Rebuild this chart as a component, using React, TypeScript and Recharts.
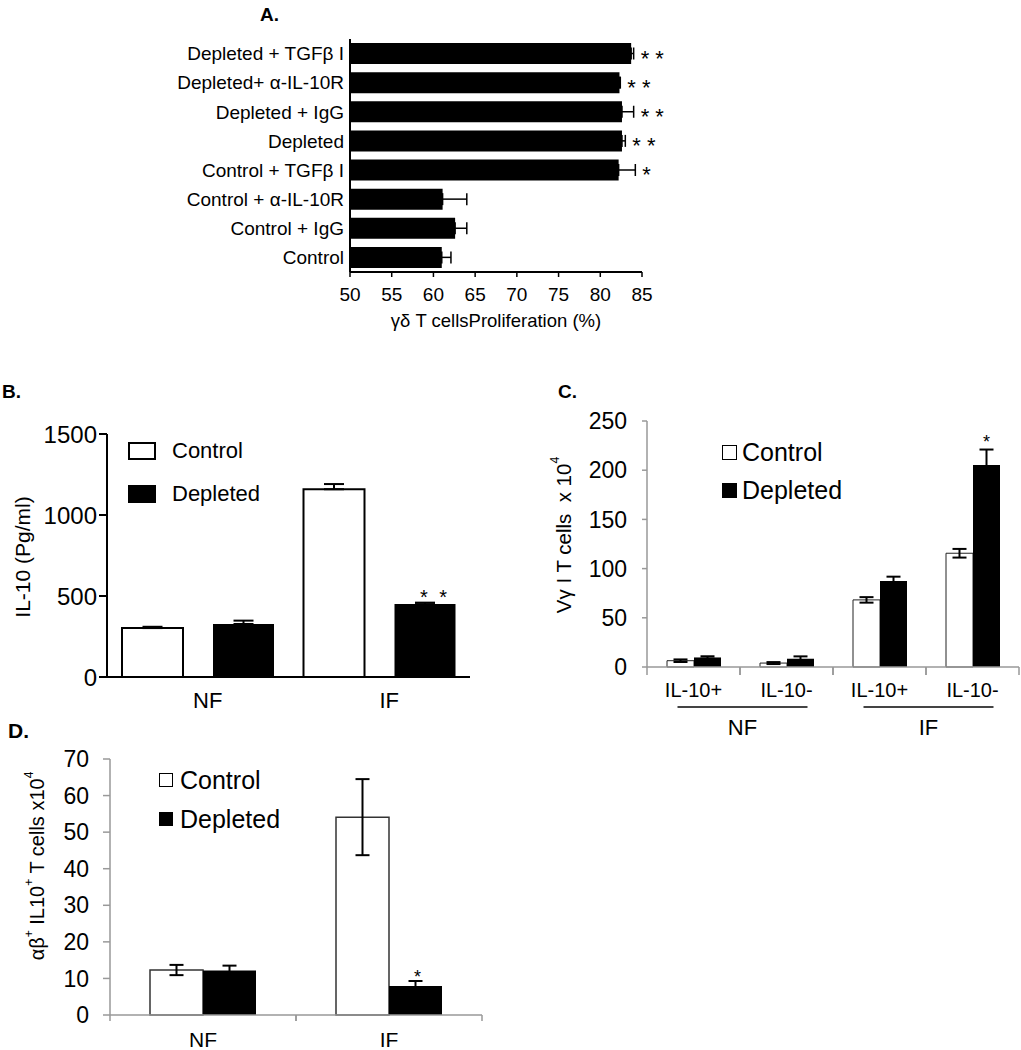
import React from "react";
import { BarChart, Bar, XAxis, YAxis, ErrorBar, LabelList } from "recharts";

const FONT = "'Liberation Sans', Arial, Helvetica, sans-serif";

// ---- Panel A: proliferation (horizontal bars)
const aLabels = [
  "Depleted + TGFβ I",
  "Depleted+ α-IL-10R",
  "Depleted + IgG",
  "Depleted",
  "Control + TGFβ I",
  "Control + α-IL-10R",
  "Control + IgG",
  "Control",
];
const aValues = [83.7, 82.3, 82.6, 82.6, 82.2, 61.1, 62.6, 61.0];
const aErrors = [0.3, 0.1, 1.4, 0.4, 2.0, 2.9, 1.4, 1.1];
const aStars = ["* *", "* *", "* *", "* *", "*", "", "", ""];
const aTicks = [50, 55, 60, 65, 70, 75, 80, 85];
const aTitle = "γδ T cellsProliferation (%)";

// ---- Panel B: IL-10 ELISA
const bCats = ["NF", "IF"];
const bControl = [302, 1159];
const bControlErr = [8, 32];
const bDepleted = [327, 450];
const bDepletedErr = [21, 9];
const bStars = ["", "* *"];
const bTicks = [0, 500, 1000, 1500];

// ---- Panel C: Vγ1 T cells
const cGroups = ["NF", "NF", "IF", "IF"];
const cCats = ["IL-10+", "IL-10-", "IL-10+", "IL-10-"];
const cControl = [6.4, 4.0, 68.2, 115.6];
const cControlErr = [1.3, 1.0, 2.8, 4.4];
const cDepleted = [9.7, 8.4, 87.5, 205.4];
const cDepletedErr = [1.2, 2.4, 4.3, 15.6];
const cStars = ["", "", "", "*"];
const cTicks = [0, 50, 100, 150, 200, 250];

// ---- Panel D: αβ IL10+ T cells
const dCats = ["NF", "IF"];
const dControl = [12.3, 54.1];
const dControlErr = [1.4, 10.4];
const dDepleted = [12.2, 7.9];
const dDepletedErr = [1.3, 1.4];
const dStars = ["", "*"];
const dTicks = [0, 10, 20, 30, 40, 50, 60, 70];

const aData = aLabels.map((name, i) => ({ name, value: aValues[i], err: [0, aErrors[i]] }));
const bData = bCats.map((name, i) => ({
  name,
  control: bControl[i],
  controlErr: [0, bControlErr[i]],
  depleted: bDepleted[i],
  depletedErr: [0, bDepletedErr[i]],
}));
const cData = cCats.map((label, i) => ({
  key: `${cGroups[i]}|${label}|${i}`,
  control: cControl[i],
  controlErr: cControlErr[i],
  depleted: cDepleted[i],
  depletedErr: cDepletedErr[i],
}));
const dData = dCats.map((name, i) => ({
  name,
  control: dControl[i],
  controlErr: dControlErr[i],
  depleted: dDepleted[i],
  depletedErr: dDepletedErr[i],
}));

const C_BAND = (511 - 137 - 2) / cCats.length;
const D_BAND = (520 - 110 - 38) / dCats.length;

const getBox = (p: any) => p.viewBox ?? p;

// stars after the error bars in A
const StarA = (props: any) => {
  const vb = getBox(props);
  const i = aLabels.indexOf(props.value);
  if (i < 0 || !aStars[i]) return null;
  const perUnit = vb.width / (aValues[i] - 50);
  const end = vb.x + vb.width + aErrors[i] * perUnit;
  return (
    <text x={end + 7} y={vb.y + vb.height / 2 + 12} fontSize={22} fill="#000">
      {aStars[i]}
    </text>
  );
};

const StarB = (props: any) => {
  const vb = getBox(props);
  const i = bCats.indexOf(props.value);
  if (i < 0 || !bStars[i]) return null;
  const perUnit = vb.height / bDepleted[i];
  const top = vb.y - bDepletedErr[i] * perUnit;
  return (
    <text x={vb.x + vb.width / 2 + 10} y={top + 1} textAnchor="middle" fontSize={20} letterSpacing={3} fill="#000">
      {bStars[i]}
    </text>
  );
};

const StarC = (props: any) => {
  const vb = getBox(props);
  const i = cData.findIndex((d) => d.key === props.value);
  if (i < 0 || !cStars[i]) return null;
  const perUnit = vb.height / cDepleted[i];
  const top = vb.y - cDepletedErr[i] * perUnit;
  return (
    <text x={vb.x + vb.width / 2} y={top - 2} textAnchor="middle" fontSize={18} fill="#000">
      {cStars[i]}
    </text>
  );
};

const StarD = (props: any) => {
  const vb = getBox(props);
  const i = dCats.indexOf(props.value);
  if (i < 0 || !dStars[i]) return null;
  const perUnit = vb.height / dDepleted[i];
  const top = vb.y - dDepletedErr[i] * perUnit;
  return (
    <text x={vb.x + vb.width / 2 + 2} y={top + 2} textAnchor="middle" fontSize={18} fill="#000">
      {dStars[i]}
    </text>
  );
};

// rotated axis title with optional superscripts
const VLabel = (props: any) => {
  const { cx, cy, size, parts } = props;
  let up = false;
  const spans = parts.map((p: any, k: number) => {
    let dy = 0;
    if (p.sup && !up) {
      dy = -size * 0.4;
      up = true;
    } else if (!p.sup && up) {
      dy = size * 0.4;
      up = false;
    }
    return (
      <tspan key={k} dy={dy} fontSize={p.sup ? size * 0.6 : size}>
        {p.t}
      </tspan>
    );
  });
  return (
    <text
      x={cx}
      y={cy}
      transform={`rotate(-90 ${cx} ${cy})`}
      textAnchor="middle"
      dominantBaseline="central"
      fontSize={size}
      fill="#000"
      style={{ whiteSpace: "pre" }}
    >
      {spans}
    </text>
  );
};

const CTick = (props: any) => {
  const { x, y, payload } = props;
  const [group, label, idx] = String(payload.value).split("|");
  const i = Number(idx);
  const first = i === 0 || cGroups[i - 1] !== group;
  let count = 0;
  if (first) {
    for (let k = i; k < cGroups.length && cGroups[k] === group; k++) count++;
  }
  const x1 = x - 16;
  const x2 = x + (count - 1) * C_BAND + 21;
  return (
    <g>
      <line x1={x - C_BAND / 2} x2={x - C_BAND / 2} y1={y} y2={y + 8} stroke="#999" strokeWidth={1.5} />
      <line x1={x + C_BAND / 2} x2={x + C_BAND / 2} y1={y} y2={y + 8} stroke="#999" strokeWidth={1.5} />
      <text x={x} y={y + 30} textAnchor="middle" fontSize={20} fill="#000">
        {label}
      </text>
      {first && (
        <g>
          <line x1={x1} x2={x2} y1={y + 40} y2={y + 40} stroke="#444" strokeWidth={2} />
          <text x={(x1 + x2) / 2} y={y + 68} textAnchor="middle" fontSize={22} fill="#000">
            {group}
          </text>
        </g>
      )}
    </g>
  );
};

const DTick = (props: any) => {
  const { x, y, payload } = props;
  return (
    <g>
      <line x1={x - D_BAND / 2} x2={x - D_BAND / 2} y1={y} y2={y + 6} stroke="#999" strokeWidth={1.5} />
      <line x1={x + D_BAND / 2} x2={x + D_BAND / 2} y1={y} y2={y + 6} stroke="#999" strokeWidth={1.5} />
      <text x={x} y={y + 32} textAnchor="middle" fontSize={21} fill="#000">
        {payload.value}
      </text>
    </g>
  );
};

const Title = ({ text, left, top, size }: any) => (
  <div style={{ position: "absolute", left, top, fontSize: size, fontWeight: "bold", lineHeight: 1 }}>{text}</div>
);

const LegendRows = ({ left, centers, boxW, boxH, border, gap, fontSize }: any) => (
  <>
    {["Control", "Depleted"].map((name, k) => (
      <div
        key={name}
        style={{
          position: "absolute",
          left,
          top: centers[k] - 20,
          height: 40,
          display: "flex",
          alignItems: "center",
          fontSize,
          whiteSpace: "nowrap",
        }}
      >
        <div
          style={{
            width: boxW,
            height: boxH,
            boxSizing: "border-box",
            border: `${border}px solid #000`,
            background: k === 0 ? "#fff" : "#000",
            marginRight: gap,
          }}
        />
        <span>{name}</span>
      </div>
    ))}
  </>
);

const grayAxis = { stroke: "#999", strokeWidth: 1.5 };
const blackAxis = { stroke: "#000", strokeWidth: 2 };

export default function App() {
  return (
    <div
      style={{
        position: "absolute",
        left: 0,
        top: 0,
        width: 1021,
        height: 1050,
        background: "#fff",
        fontFamily: FONT,
        color: "#000",
        overflow: "hidden",
      }}
    >
      {/* A */}
      <div style={{ position: "absolute", left: 0, top: 0 }}>
        <BarChart
          width={700}
          height={340}
          data={aData}
          layout="vertical"
          margin={{ top: 39, right: 58, bottom: 0, left: 0 }}
        >
          <XAxis
            type="number"
            domain={[50, 85]}
            ticks={aTicks}
            height={68}
            axisLine={blackAxis}
            tickLine={{ stroke: "#000", strokeWidth: 1.5 }}
            tickSize={5}
            tickMargin={11}
            tick={{ fontSize: 19, fill: "#000" }}
            label={{ value: aTitle, position: "insideBottom", offset: 13, fontSize: 18.5, fill: "#000" }}
          />
          <YAxis
            type="category"
            dataKey="name"
            width={350}
            interval={0}
            axisLine={blackAxis}
            tickLine={false}
            tickSize={0}
            tickMargin={6}
            tick={{ fontSize: 19, fill: "#000" }}
          />
          <Bar dataKey="value" fill="#000" barSize={21} isAnimationActive={false}>
            <ErrorBar dataKey="err" direction="x" width={6} stroke="#000" strokeWidth={1.5} isAnimationActive={false} />
            <LabelList dataKey="name" content={StarA} />
          </Bar>
        </BarChart>
      </div>
      <Title text="A." left={260} top={5} size={19} />

      {/* B */}
      <div style={{ position: "absolute", left: 0, top: 380 }}>
        <BarChart
          width={520}
          height={345}
          data={bData}
          barGap={30}
          margin={{ top: 54, right: 50, bottom: 0, left: 0 }}
        >
          <XAxis
            dataKey="name"
            height={48}
            interval={0}
            axisLine={blackAxis}
            tickLine={false}
            tickSize={0}
            tickMargin={15}
            dx={10}
            tick={{ fontSize: 22, fill: "#000" }}
          />
          <YAxis
            width={107}
            domain={[0, 1500]}
            ticks={bTicks}
            axisLine={blackAxis}
            tickLine={blackAxis}
            tickSize={8}
            tickMargin={2}
            tick={{ fontSize: 24, fill: "#000" }}
            label={<VLabel cx={22} cy={177} size={21} parts={[{ t: "IL-10 (Pg/ml)" }]} />}
          />
          <Bar dataKey="control" fill="#fff" stroke="#000" strokeWidth={2} barSize={61} isAnimationActive={false}>
            <ErrorBar dataKey="controlErr" width={10} stroke="#000" strokeWidth={2} isAnimationActive={false} />
          </Bar>
          <Bar dataKey="depleted" fill="#000" barSize={61} isAnimationActive={false}>
            <ErrorBar dataKey="depletedErr" width={10} stroke="#000" strokeWidth={2} isAnimationActive={false} />
            <LabelList dataKey="name" content={StarB} />
          </Bar>
        </BarChart>
      </div>
      <Title text="B." left={2} top={382} size={19} />
      <LegendRows left={128} centers={[451, 494]} boxW={28} boxH={18} border={2} gap={16} fontSize={22} />

      {/* C */}
      <div style={{ position: "absolute", left: 510, top: 380 }}>
        <BarChart
          width={511}
          height={360}
          data={cData}
          barGap={0}
          margin={{ top: 41, right: 2, bottom: 0, left: 0 }}
        >
          <XAxis
            dataKey="key"
            height={73}
            interval={0}
            axisLine={grayAxis}
            tickLine={false}
            tickSize={0}
            tickMargin={0}
            tick={CTick}
          />
          <YAxis
            width={137}
            domain={[0, 250]}
            ticks={cTicks}
            axisLine={grayAxis}
            tickLine={grayAxis}
            tickSize={5}
            tickMargin={15}
            tick={{ fontSize: 23, fill: "#000" }}
            label={
              <VLabel
                cx={53}
                cy={155}
                size={20.5}
                parts={[{ t: "Vγ I T cells  x 10" }, { t: "4", sup: true }]}
              />
            }
          />
          <Bar dataKey="control" fill="#fff" stroke="#222" strokeWidth={1} barSize={27} isAnimationActive={false}>
            <ErrorBar dataKey="controlErr" width={7} stroke="#000" strokeWidth={2} isAnimationActive={false} />
          </Bar>
          <Bar dataKey="depleted" fill="#000" barSize={27} isAnimationActive={false}>
            <ErrorBar dataKey="depletedErr" width={7} stroke="#000" strokeWidth={2} isAnimationActive={false} />
            <LabelList dataKey="key" content={StarC} />
          </Bar>
        </BarChart>
      </div>
      <Title text="C." left={558} top={382} size={19} />
      <LegendRows left={722} centers={[452, 490]} boxW={15} boxH={15} border={1} gap={5} fontSize={25} />

      {/* D */}
      <div style={{ position: "absolute", left: 0, top: 700 }}>
        <BarChart
          width={520}
          height={350}
          data={dData}
          barGap={0}
          margin={{ top: 59, right: 38, bottom: 0, left: 0 }}
        >
          <XAxis
            dataKey="name"
            height={35}
            interval={0}
            axisLine={grayAxis}
            tickLine={false}
            tickSize={0}
            tickMargin={0}
            tick={DTick}
          />
          <YAxis
            width={110}
            domain={[0, 70]}
            ticks={dTicks}
            axisLine={grayAxis}
            tickLine={grayAxis}
            tickSize={7}
            tickMargin={14}
            tick={{ fontSize: 23, fill: "#000" }}
            label={
              <VLabel
                cx={37}
                cy={166}
                size={20}
                parts={[
                  { t: "αβ" },
                  { t: "+", sup: true },
                  { t: " IL10" },
                  { t: "+", sup: true },
                  { t: " T cells x10" },
                  { t: "4", sup: true },
                ]}
              />
            }
          />
          <Bar dataKey="control" fill="#fff" stroke="#333" strokeWidth={1.5} barSize={53} isAnimationActive={false}>
            <ErrorBar dataKey="controlErr" width={7} stroke="#000" strokeWidth={2} isAnimationActive={false} />
          </Bar>
          <Bar dataKey="depleted" fill="#000" barSize={53} isAnimationActive={false}>
            <ErrorBar dataKey="depletedErr" width={7} stroke="#000" strokeWidth={2} isAnimationActive={false} />
            <LabelList dataKey="name" content={StarD} />
          </Bar>
        </BarChart>
      </div>
      <Title text="D." left={8} top={720} size={21} />
      <LegendRows left={159} centers={[780, 819]} boxW={14} boxH={14} border={1} gap={7} fontSize={25} />
    </div>
  );
}
